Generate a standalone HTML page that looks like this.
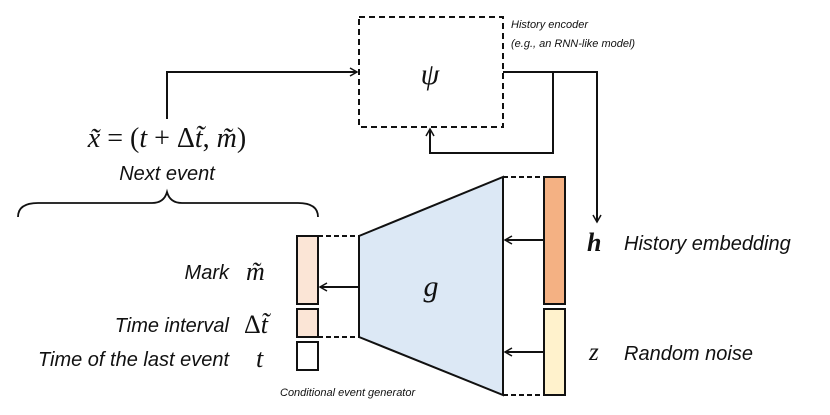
<!DOCTYPE html>
<html><head><meta charset="utf-8"><style>
body{margin:0;background:#fff}
svg{display:block}
.s{font-family:"Liberation Sans",sans-serif;font-style:italic;fill:#111}
.m{font-family:"Liberation Serif","DejaVu Serif",serif;font-style:italic;fill:#111}
.u{font-style:normal}
</style></head><body>
<svg width="830" height="415" viewBox="0 0 830 415" xmlns="http://www.w3.org/2000/svg">
<defs><marker id="a" markerWidth="10" markerHeight="10" refX="8" refY="5" orient="auto" markerUnits="userSpaceOnUse"><path d="M1,1 L8,5 L1,9" fill="none" stroke="#111" stroke-width="1.5"/></marker></defs>
<g stroke="#111" stroke-width="2" fill="none">
<rect x="359" y="17" width="144" height="110" stroke-dasharray="6,4"/>
<path d="M167,119 V72 H357" marker-end="url(#a)"/>
<path d="M503,72 H597 V222" marker-end="url(#a)"/>
<path d="M553,72 V153 H430 V129" marker-end="url(#a)"/>
<path d="M359,236 L503,177 L503,395 L359,337 Z" fill="#dce8f5"/>
<path d="M318,236 H359 M318,337 H359 M503,177 H544 M503,395 H544" stroke-dasharray="5,3"/>
<rect x="297" y="236" width="21" height="68" fill="#fbe5d6"/>
<rect x="297" y="309" width="21" height="28" fill="#fbe5d6"/>
<rect x="297" y="342" width="21" height="28" fill="#fff"/>
<rect x="544" y="177" width="21" height="127" fill="#f4b183"/>
<rect x="544" y="309" width="21" height="86" fill="#fff2cc"/>
<path d="M359,287 H320" marker-end="url(#a)"/>
<path d="M544,240 H505" marker-end="url(#a)"/>
<path d="M544,352 H505" marker-end="url(#a)"/>
<path d="M18,217 Q18,203 38,203 H152 Q164,203 167,192 Q170,203 182,203 H298 Q318,203 318,217" stroke-width="1.8"/>
</g>
<text x="430" y="84" class="m" font-size="30" text-anchor="middle">ψ</text>
<text x="431" y="296" class="m" font-size="30" text-anchor="middle">g</text>
<text x="167" y="147" class="m" font-size="28" text-anchor="middle">x̃ <tspan class="u">= (</tspan>t <tspan class="u">+ Δ</tspan>t̃<tspan class="u">, </tspan>m̃<tspan class="u">)</tspan></text>
<text x="167" y="180" class="s" font-size="20" text-anchor="middle">Next event</text>
<text x="511" y="28" class="s" font-size="11">History encoder</text>
<text x="511" y="47" class="s" font-size="11">(e.g., an RNN-like model)</text>
<text x="229" y="279" class="s" font-size="20" text-anchor="end">Mark</text>
<text x="246" y="280" class="m" font-size="26">m̃</text>
<text x="229" y="332" class="s" font-size="20" text-anchor="end">Time interval</text>
<text x="244" y="333" class="m" font-size="26"><tspan class="u">Δ</tspan>t̃</text>
<text x="229" y="366" class="s" font-size="20" text-anchor="end">Time of the last event</text>
<text x="256" y="367" class="m" font-size="26">t</text>
<text x="280" y="396" class="s" font-size="11">Conditional event generator</text>
<text x="587" y="251" font-family="Liberation Serif,serif" font-weight="bold" font-style="italic" font-size="26" fill="#111">h</text>
<text x="624" y="250" class="s" font-size="20">History embedding</text>
<text x="589" y="360" class="m" font-size="25">z</text>
<text x="624" y="360" class="s" font-size="20">Random noise</text>
</svg>
</body></html>
